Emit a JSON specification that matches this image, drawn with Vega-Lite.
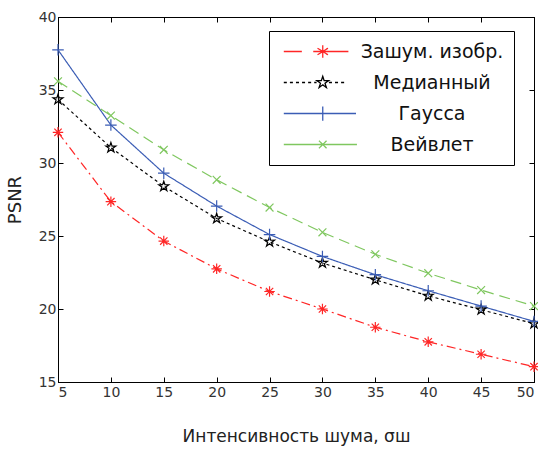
{
  "$schema": "https://vega.github.io/schema/vega-lite/v6.json",
  "width": 476,
  "height": 365,
  "autosize": "none",
  "padding": {"left": 58, "top": 17, "right": 4, "bottom": 70},
  "background": "white",
  "config": {
    "font": "DejaVu Sans",
    "view": {"stroke": "#000000", "strokeWidth": 1},
    "axis": {
      "grid": false,
      "domainColor": "#000000",
      "tickColor": "#000000",
      "tickSize": -5,
      "labelColor": "#333333",
      "labelFontSize": 14,
      "labelFont": "DejaVu Sans",
      "titleFont": "DejaVu Sans",
      "titleFontWeight": "normal",
      "titleColor": "#222222"
    }
  },
  "data": {
    "values": [
      {"s": 5, "series": "Зашум. изобр.", "psnr": 32.1},
      {"s": 10, "series": "Зашум. изобр.", "psnr": 27.35},
      {"s": 15, "series": "Зашум. изобр.", "psnr": 24.65},
      {"s": 20, "series": "Зашум. изобр.", "psnr": 22.75},
      {"s": 25, "series": "Зашум. изобр.", "psnr": 21.2},
      {"s": 30, "series": "Зашум. изобр.", "psnr": 20.0},
      {"s": 35, "series": "Зашум. изобр.", "psnr": 18.75},
      {"s": 40, "series": "Зашум. изобр.", "psnr": 17.75},
      {"s": 45, "series": "Зашум. изобр.", "psnr": 16.9},
      {"s": 50, "series": "Зашум. изобр.", "psnr": 16.05},
      {"s": 5, "series": "Медианный", "psnr": 34.35},
      {"s": 10, "series": "Медианный", "psnr": 31.05},
      {"s": 15, "series": "Медианный", "psnr": 28.4},
      {"s": 20, "series": "Медианный", "psnr": 26.2},
      {"s": 25, "series": "Медианный", "psnr": 24.6},
      {"s": 30, "series": "Медианный", "psnr": 23.15},
      {"s": 35, "series": "Медианный", "psnr": 22.0},
      {"s": 40, "series": "Медианный", "psnr": 20.9},
      {"s": 45, "series": "Медианный", "psnr": 19.95},
      {"s": 50, "series": "Медианный", "psnr": 19.0},
      {"s": 5, "series": "Гаусса", "psnr": 37.75},
      {"s": 10, "series": "Гаусса", "psnr": 32.6},
      {"s": 15, "series": "Гаусса", "psnr": 29.3},
      {"s": 20, "series": "Гаусса", "psnr": 27.05},
      {"s": 25, "series": "Гаусса", "psnr": 25.1},
      {"s": 30, "series": "Гаусса", "psnr": 23.6},
      {"s": 35, "series": "Гаусса", "psnr": 22.35},
      {"s": 40, "series": "Гаусса", "psnr": 21.25},
      {"s": 45, "series": "Гаусса", "psnr": 20.2},
      {"s": 50, "series": "Гаусса", "psnr": 19.15},
      {"s": 5, "series": "Вейвлет", "psnr": 35.6},
      {"s": 10, "series": "Вейвлет", "psnr": 33.25},
      {"s": 15, "series": "Вейвлет", "psnr": 30.9},
      {"s": 20, "series": "Вейвлет", "psnr": 28.85},
      {"s": 25, "series": "Вейвлет", "psnr": 26.95},
      {"s": 30, "series": "Вейвлет", "psnr": 25.25},
      {"s": 35, "series": "Вейвлет", "psnr": 23.75},
      {"s": 40, "series": "Вейвлет", "psnr": 22.45},
      {"s": 45, "series": "Вейвлет", "psnr": 21.3},
      {"s": 50, "series": "Вейвлет", "psnr": 20.2}
    ]
  },
  "encoding": {
    "color": {
      "field": "series",
      "type": "nominal",
      "scale": {
        "domain": ["Зашум. изобр.", "Медианный", "Гаусса", "Вейвлет"],
        "range": ["#ff2626", "#000000", "#3b5db5", "#7fc75f"]
      },
      "legend": {
        "title": null,
        "orient": "none",
        "legendX": 211,
        "legendY": 14,
        "direction": "vertical",
        "strokeColor": "#000000",
        "fillColor": "#ffffff",
        "padding": 10,
        "rowPadding": 10,
        "symbolSize": 361,
        "symbolType": "stroke",
        "symbolStrokeWidth": 1.3,
        "labelFont": "DejaVu Sans",
        "labelFontSize": 19,
        "labelColor": "#111111",
        "labelAlign": "center",
        "labelOffset": 132,
        "labelLimit": 300,
        "encode": {
          "symbols": {
            "update": {
              "shape": {"signal": "datum.value === 'Зашум. изобр.' ? 'M-0.6,0L1.3,0M2.5,0L6.2,0M3.5,-0.65L3.5,0.65M2.95,-0.35L4.05,0.35M2.95,0.35L4.05,-0.35' : datum.value === 'Медианный' ? 'M-0.6,0L-0.28,0M0.04,0L0.36,0M0.68,0L1,0M1.32,0L1.64,0M1.96,0L2.28,0M2.6,0L2.85,0M4.15,0L4.47,0M4.79,0L5.11,0M5.43,0L5.75,0M3.5,-0.65L3.645,-0.2L4.118,-0.201L3.735,0.076L3.882,0.526L3.5,0.247L3.118,0.526L3.265,0.076L2.882,-0.201L3.355,-0.2Z' : datum.value === 'Гаусса' ? 'M-0.6,0L7,0M3.5,-0.75L3.5,0.75' : 'M-0.6,0L7.1,0M3.1,-0.4L3.9,0.4M3.1,0.4L3.9,-0.4'"},
              "strokeDash": {"value": [1, 0]},
              "fill": {"value": "transparent"},
              "strokeWidth": {"value": 1.3},
              "stroke": {"scale": "color", "field": "value"}
            }
          }
        }
      }
    }
  },
  "layer": [
    {
      "mark": {"type": "line", "strokeWidth": 1.2},
      "encoding": {
        "x": {
          "field": "s",
          "type": "quantitative",
          "scale": {"domain": [5, 50], "nice": false, "zero": false},
          "axis": {"orient": "bottom", "values": [5, 10, 15, 20, 25, 30, 35, 40, 45, 50], "title": "Интенсивность шума, σш", "titleFontSize": 17, "labelPadding": 8, "titlePadding": 29}
        },
        "y": {
          "field": "psnr",
          "type": "quantitative",
          "scale": {"domain": [15, 40], "nice": false, "zero": false},
          "axis": {"orient": "left", "values": [15, 20, 25, 30, 35, 40], "title": "PSNR", "titleFontSize": 18, "labelPadding": 7, "titlePadding": 14}
        },
        "strokeDash": {
          "field": "series",
          "type": "nominal",
          "scale": {
            "domain": ["Вейвлет", "Гаусса", "Медианный", "Зашум. изобр."],
            "range": [[11, 6], [1, 0], [3, 3], [9, 4, 2, 4]]
          },
          "legend": null
        }
      }
    },
    {
      "mark": {"type": "point", "filled": false, "strokeWidth": 1.2, "opacity": 1, "size": 110},
      "encoding": {
        "x": {
          "field": "s",
          "type": "quantitative",
          "axis": {"orient": "top", "values": [5, 10, 15, 20, 25, 30, 35, 40, 45, 50], "labels": false, "title": null}
        },
        "y": {
          "field": "psnr",
          "type": "quantitative",
          "axis": {"orient": "right", "values": [15, 20, 25, 30, 35, 40], "labels": false, "title": null}
        },
        "shape": {
          "field": "series",
          "type": "nominal",
          "scale": {
            "domain": ["Вейвлет", "Гаусса", "Медианный", "Зашум. изобр."],
            "range": [
              "M-0.75,-0.75L0.75,0.75M-0.75,0.75L0.75,-0.75",
              "M0,-1.1L0,1.1M-1.1,0L1.1,0",
              "M0,-1L0.2235,-0.307L0.951,-0.309L0.361,0.117L0.588,0.809L0,0.38L-0.588,0.809L-0.361,0.117L-0.951,-0.309L-0.2235,-0.307Z",
              "M0,-1L0,1M-1,0L1,0M-0.7,-0.7L0.7,0.7M-0.7,0.7L0.7,-0.7"
            ]
          },
          "legend": null
        }
      }
    }
  ],
  "resolve": {"axis": {"x": "independent", "y": "independent"}}
}
